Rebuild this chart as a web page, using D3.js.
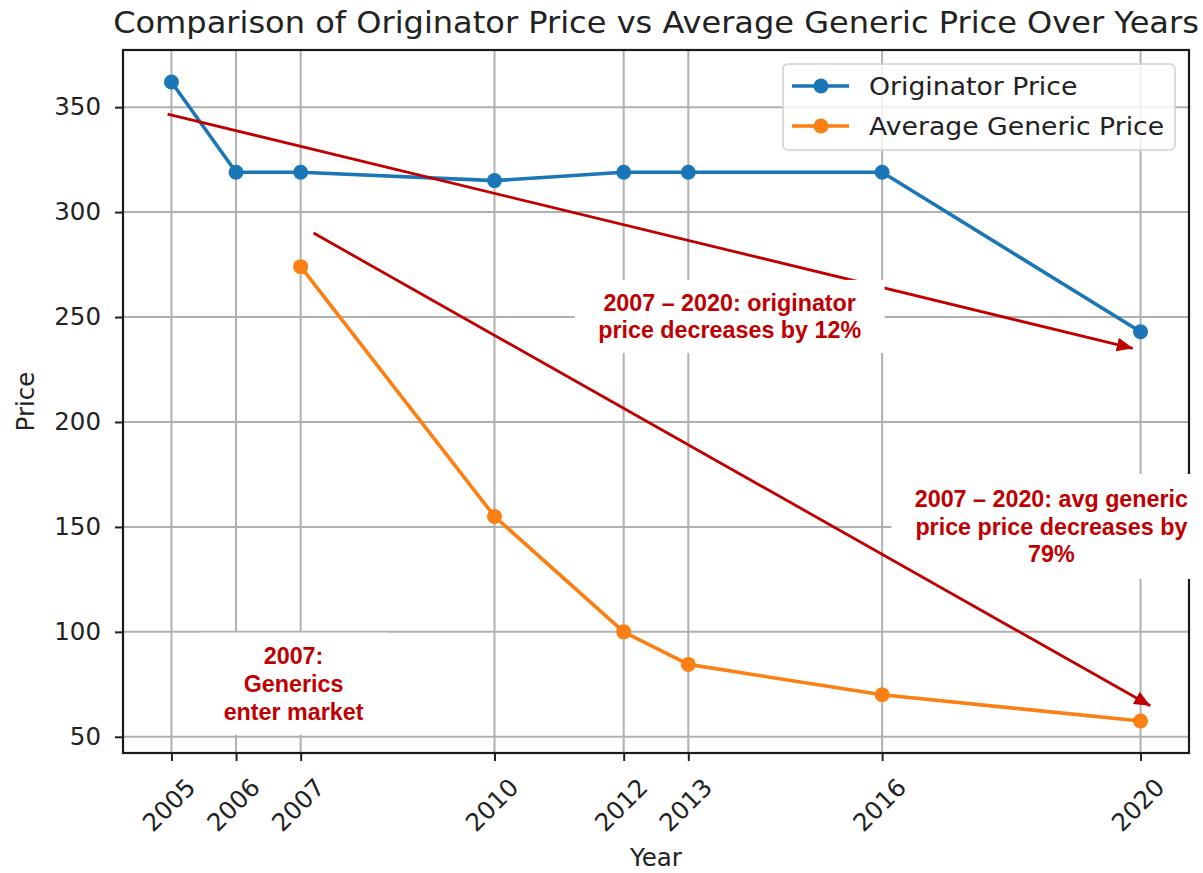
<!DOCTYPE html>
<html>
<head>
<meta charset="utf-8">
<script src="https://cdn.jsdelivr.net/npm/d3@7"></script>
<style>
  html, body { margin: 0; padding: 0; background: #fff; }
  svg { display: block; }
</style>
</head>
<body>
<svg id="chart" width="1203" height="873"></svg>
<script>
// ---- Data ----
const years = [2005, 2006, 2007, 2010, 2012, 2013, 2016, 2020];
const originatorPrice = [362, 319, 319, 315, 319, 319, 319, 243];
const genericYears = [2007, 2010, 2012, 2013, 2016, 2020];
const genericPrice = [274, 155, 100, 84.5, 70, 57.5];
const yTicks = [50, 100, 150, 200, 250, 300, 350];
const seriesNames = ["Originator Price", "Average Generic Price"];
const titleText = "Comparison of Originator Price vs Average Generic Price Over Years";

// annotation arrows in data coords
const arrowStarts = [[2004.94, 346.7], [2007.2, 290]];
const arrowEnds = [[2019.88, 235.1], [2020.15, 64.8]];
// annotation text: lines and data-coordinate centre
const noteLines = [
  ["2007 \u2013 2020: originator", "price decreases by 12%"],
  ["2007 \u2013 2020: avg generic", "price price decreases by", "79%"],
  ["2007:", "Generics", "enter market"]
];
const noteCentres = [[2013.64, 250.3], [2018.62, 150.2], [2006.89, 75.3]];

// ---- Layout / style ----
const L = 123, R = 1189, T = 50, B = 753;
const blue = "#1a76b6", orange = "#fb7f12", red = "#c00000";
const boxSizes = [[310, 73], [320, 105], [187, 102]];
const stretch = 1.09;

const svg = d3.select("#chart");

const x = d3.scaleLinear().domain([2004.25, 2020.75]).range([L, R]);
const yMin = 57.5, yMax = 362, pad = (yMax - yMin) * 0.05;
const y = d3.scaleLinear().domain([yMin - pad, yMax + pad]).range([B, T]);

// grid
const grid = svg.append("g");
grid.selectAll("line.vx").data(years).enter().append("line")
  .attr("x1", d => x(d)).attr("x2", d => x(d)).attr("y1", T).attr("y2", B)
  .attr("stroke", "#b0b0b0").attr("stroke-width", 2);
grid.selectAll("line.hy").data(yTicks).enter().append("line")
  .attr("y1", d => y(d)).attr("y2", d => y(d)).attr("x1", L).attr("x2", R)
  .attr("stroke", "#b0b0b0").attr("stroke-width", 2);

// axes
const xAxis = d3.axisBottom(x).tickValues(years).tickFormat(d3.format("d")).tickSize(8).tickPadding(6);
const gx = svg.append("g").attr("transform", `translate(0,${B})`).call(xAxis);
gx.select(".domain").remove();
gx.selectAll(".tick line").attr("stroke", "#222").attr("stroke-width", 2);
gx.selectAll(".tick text")
  .attr("font-family", "DejaVu Sans").attr("font-size", 24.5).attr("fill", "#222")
  .attr("text-anchor", "middle").attr("dominant-baseline", "central")
  .attr("y", 0).attr("dy", null)
  .attr("transform", "translate(-3,52) rotate(-45)");

const yAxis = d3.axisLeft(y).tickValues(yTicks).tickSize(8).tickPadding(14);
const gy = svg.append("g").attr("transform", `translate(${L},0)`).call(yAxis);
gy.select(".domain").remove();
gy.selectAll(".tick line").attr("stroke", "#222").attr("stroke-width", 2);
gy.selectAll(".tick text")
  .attr("font-family", "DejaVu Sans").attr("font-size", 24.5).attr("fill", "#222");

// lines
const line = d3.line().x(d => x(d[0])).y(d => y(d[1]));
const origData = years.map((yr, i) => [yr, originatorPrice[i]]);
const genData = genericYears.map((yr, i) => [yr, genericPrice[i]]);

[[origData, blue], [genData, orange]].forEach(([data, col]) => {
  svg.append("path").datum(data).attr("d", line)
    .attr("fill", "none").attr("stroke", col).attr("stroke-width", 3.6)
    .attr("stroke-linejoin", "round");
  svg.append("g").selectAll("circle").data(data).enter().append("circle")
    .attr("cx", d => x(d[0])).attr("cy", d => y(d[1])).attr("r", 7.5)
    .attr("fill", col);
});

// frame
svg.append("rect").attr("x", L).attr("y", T).attr("width", R - L).attr("height", B - T)
  .attr("fill", "none").attr("stroke", "#1a1a1a").attr("stroke-width", 2.2);

// annotation boxes
function drawNote(i) {
  const lines = noteLines[i];
  const cx = x(noteCentres[i][0]), cy = y(noteCentres[i][1]);
  const [bw, bh] = boxSizes[i];
  const g = svg.append("g");
  g.append("rect").attr("x", cx - bw / 2).attr("y", cy - bh / 2)
    .attr("width", bw).attr("height", bh).attr("fill", "#fff");
  const lh = 27.8;
  const y0 = cy - (lines.length - 1) * lh / 2;
  lines.forEach((t, j) => {
    g.append("text").attr("x", cx).attr("y", y0 + j * lh).attr("dy", "0.35em")
      .attr("text-anchor", "middle")
      .attr("font-family", "Liberation Sans, Arial, sans-serif")
      .attr("font-weight", "bold").attr("font-size", 23.3).attr("fill", red)
      .text(t);
  });
}
drawNote(1);
drawNote(2);

// arrows
const defs = svg.append("defs");
defs.append("marker").attr("id", "ah")
  .attr("viewBox", "0 0 16 14").attr("refX", 16).attr("refY", 7)
  .attr("markerWidth", 16).attr("markerHeight", 14)
  .attr("markerUnits", "userSpaceOnUse").attr("orient", "auto")
  .append("path").attr("d", "M0,0 L16,7 L0,14 Z").attr("fill", red);

svg.append("g").selectAll("line").data(arrowStarts).enter().append("line")
  .attr("x1", d => x(d[0])).attr("y1", d => y(d[1]))
  .attr("x2", (d, i) => x(arrowEnds[i][0])).attr("y2", (d, i) => y(arrowEnds[i][1]))
  .attr("stroke", red).attr("stroke-width", 2.8).attr("marker-end", "url(#ah)");

drawNote(0);

// legend
const lg = svg.append("g");
lg.append("rect").attr("x", 783).attr("y", 64).attr("width", 392).attr("height", 86)
  .attr("rx", 5).attr("fill", "#fff").attr("fill-opacity", 0.8)
  .attr("stroke", "#d0d0d0").attr("stroke-width", 1.5);
[blue, orange].forEach((col, i) => {
  const yy = 86 + i * 40;
  lg.append("line").attr("x1", 792).attr("x2", 849).attr("y1", yy).attr("y2", yy)
    .attr("stroke", col).attr("stroke-width", 3.6);
  lg.append("circle").attr("cx", 821).attr("cy", yy).attr("r", 7.5).attr("fill", col);
  lg.append("text").attr("transform", `translate(869,${yy}) scale(${stretch},1)`)
    .attr("dy", "0.36em")
    .attr("font-family", "DejaVu Sans").attr("font-size", 24.5).attr("fill", "#222")
    .text(seriesNames[i]);
});

// title and axis labels
svg.append("text").attr("transform", `translate(${(L + R) / 2},33) scale(${stretch},1)`)
  .attr("text-anchor", "middle")
  .attr("font-family", "DejaVu Sans").attr("font-size", 29.4).attr("fill", "#222")
  .text(titleText);
svg.append("text").attr("x", (L + R) / 2).attr("y", 866).attr("text-anchor", "middle")
  .attr("font-family", "DejaVu Sans").attr("font-size", 24.5).attr("fill", "#222")
  .text("Year");
svg.append("text").attr("transform", `translate(34,${(T + B) / 2}) rotate(-90)`)
  .attr("text-anchor", "middle")
  .attr("font-family", "DejaVu Sans").attr("font-size", 24.5).attr("fill", "#222")
  .text("Price");
</script>
</body>
</html>
